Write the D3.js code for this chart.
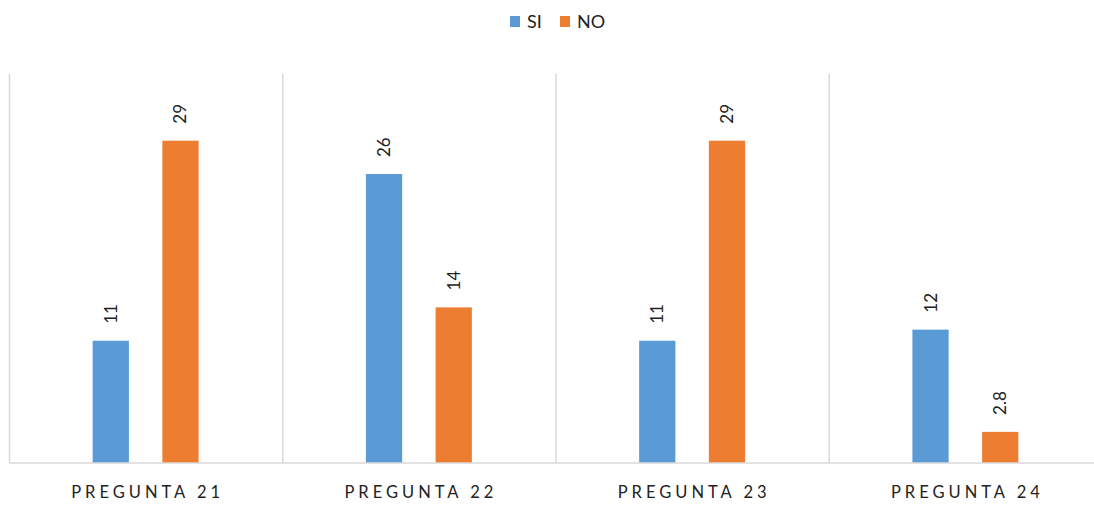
<!DOCTYPE html>
<html>
<head>
<meta charset="utf-8">
<script src="https://cdn.jsdelivr.net/npm/d3@7"></script>
<style>
  body { margin: 0; background: #fff; }
  text { font-family: Lato, "Open Sans", sans-serif; fill: #222; }
</style>
</head>
<body>
<div id="chart"></div>
<script>
const categories = ["PREGUNTA 21", "PREGUNTA 22", "PREGUNTA 23", "PREGUNTA 24"];
const seriesNames = ["SI", "NO"];
const siValues = [11, 26, 11, 12];
const noValues = [29, 14, 29, 2.8];
const colors = ["#5B9BD5", "#ED7D31"];

const width = 1094;
const height = 506;
const margin = { top: 74, right: -8, bottom: 43, left: 9 };

const svg = d3.select("#chart")
  .append("svg")
  .attr("width", width)
  .attr("height", height);

const x = d3.scaleBand()
  .domain(categories)
  .range([margin.left, width - margin.right])
  .paddingInner(0)
  .paddingOuter(0);

const xSub = d3.scaleBand()
  .domain(seriesNames)
  .range([0, x.bandwidth()])
  .paddingInner(0.48)
  .paddingOuter(1.2);

const y = d3.scaleLinear()
  .domain([0, 35])
  .range([height - margin.bottom, margin.top]);

// vertical separators
svg.selectAll("line.sep")
  .data(categories)
  .enter()
  .append("line")
  .attr("class", "sep")
  .attr("x1", d => x(d) + 0.5)
  .attr("x2", d => x(d) + 0.5)
  .attr("y1", y(35))
  .attr("y2", y(0))
  .attr("stroke", "#d9d9d9")
  .attr("stroke-width", 1.5);

const rows = categories.map((c, i) => ({ cat: c, vals: [siValues[i], noValues[i]] }));

const groups = svg.selectAll("g.cat")
  .data(rows)
  .enter()
  .append("g")
  .attr("transform", d => `translate(${x(d.cat)},0)`);

groups.selectAll("rect")
  .data(d => d.vals.map((v, j) => ({ key: seriesNames[j], v, j })))
  .enter()
  .append("rect")
  .attr("x", d => xSub(d.key))
  .attr("width", xSub.bandwidth())
  .attr("y", d => y(d.v))
  .attr("height", d => y(0) - y(d.v))
  .attr("fill", d => colors[d.j]);

groups.selectAll("text.val")
  .data(d => d.vals.map((v, j) => ({ key: seriesNames[j], v, j })))
  .enter()
  .append("text")
  .attr("class", "val")
  .attr("transform", d => `translate(${xSub(d.key) + xSub.bandwidth() / 2 + 6},${y(d.v) - 17}) rotate(-90)`)
  .attr("text-anchor", "start")
  .style("font-size", "17px")
  .text(d => d.v);

// baseline
svg.append("line")
  .attr("x1", margin.left)
  .attr("x2", width)
  .attr("y1", y(0))
  .attr("y2", y(0))
  .attr("stroke", "#d9d9d9")
  .attr("stroke-width", 1.5);

// category labels
svg.selectAll("text.cat")
  .data(categories)
  .enter()
  .append("text")
  .attr("class", "cat")
  .attr("x", d => x(d) + x.bandwidth() / 2 + 2)
  .attr("y", 498)
  .attr("text-anchor", "middle")
  .style("font-size", "16.5px")
  .style("letter-spacing", "4px")
  .text(d => d);

// legend
const legend = svg.append("g");
const legendItems = [
  { name: "SI", x: 510 },
  { name: "NO", x: 560 }
];
legendItems.forEach((d, i) => {
  legend.append("rect")
    .attr("x", d.x)
    .attr("y", 16)
    .attr("width", 10)
    .attr("height", 11)
    .attr("fill", colors[i]);
  legend.append("text")
    .attr("x", d.x + 17)
    .attr("y", 28)
    .style("font-size", "18px")
    .text(d.name);
});
</script>
</body>
</html>
